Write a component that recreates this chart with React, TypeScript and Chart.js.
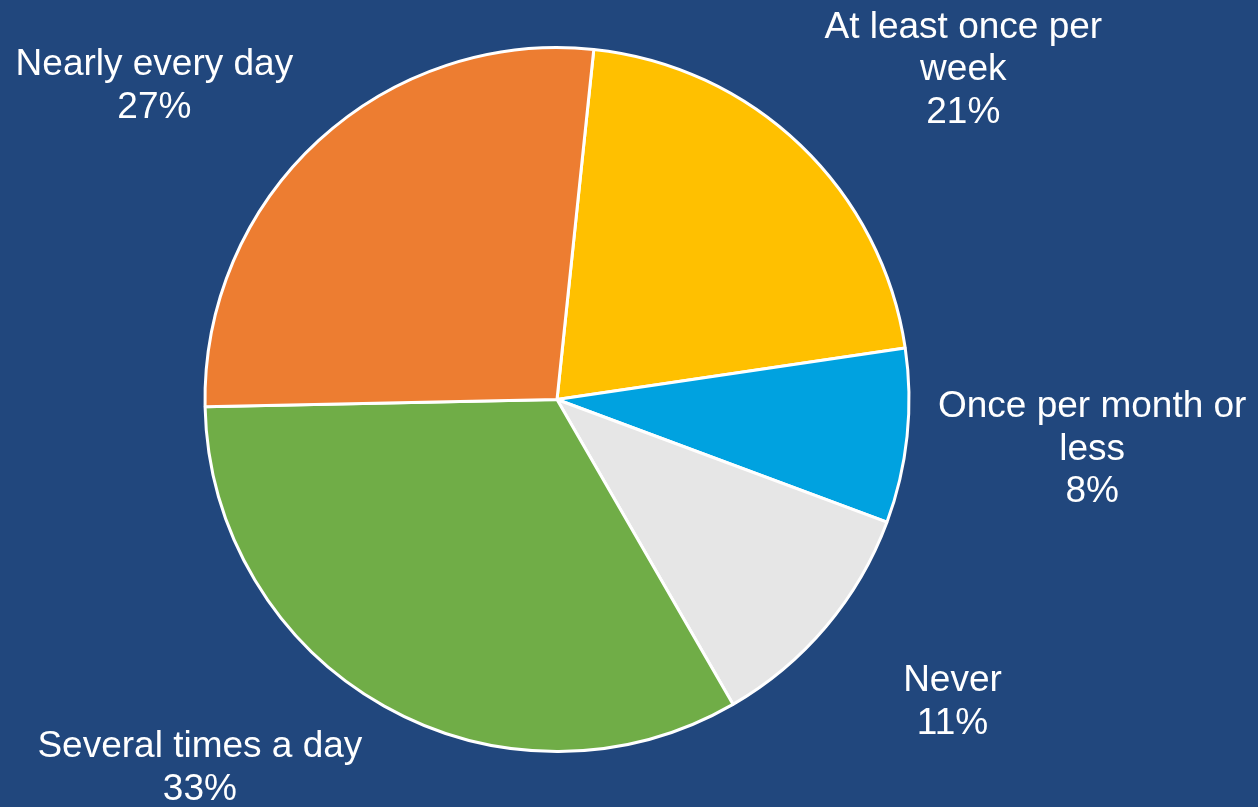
import React, { useEffect, useRef } from "react";
import { Chart, registerables } from "chart.js";

Chart.register(...registerables);

const categories: string[] = [
  "At least once per week",
  "Once per month or less",
  "Never",
  "Several times a day",
  "Nearly every day",
];
const labelLines: string[][] = [
  ["At least once per", "week"],
  ["Once per month or", "less"],
  ["Never"],
  ["Several times a day"],
  ["Nearly every day"],
];
const values: number[] = [21, 8, 11, 33, 27];
const sliceColors: string[] = ["#FFC000", "#00A2E0", "#E6E6E6", "#70AD47", "#ED7D31"];

const BG = "#21477D";
const FONT = "37px 'Liberation Sans', Arial, sans-serif";
const LINE_H = 42.5;
const GAP = 20;
const nudges: [number, number][] = [
  [10, 2],
  [11, -3],
  [62, 19],
  [-15, 1],
  [-12, 2],
];

const bgPlugin = {
  id: "bgFill",
  beforeDraw(chart: any) {
    const { ctx, width, height } = chart;
    ctx.save();
    ctx.fillStyle = BG;
    ctx.fillRect(0, 0, width, height);
    ctx.restore();
  },
};

const labelPlugin = {
  id: "outsideLabels",
  afterDraw(chart: any) {
    const { ctx } = chart;
    const meta = chart.getDatasetMeta(0);
    const data = chart.data.datasets[0].data as number[];
    const total = data.reduce((a, b) => a + b, 0);
    ctx.save();
    ctx.font = FONT;
    ctx.fillStyle = "#FFFFFF";
    ctx.textAlign = "center";
    ctx.textBaseline = "middle";
    meta.data.forEach((arc: any, i: number) => {
      const p = arc.getProps(["x", "y", "startAngle", "endAngle", "outerRadius"], true);
      const mid = (p.startAngle + p.endAngle) / 2;
      const r = p.outerRadius + GAP;
      const ax = p.x + Math.cos(mid) * r;
      const ay = p.y + Math.sin(mid) * r;
      const lines = [...labelLines[i], Math.round((data[i] / total) * 100) + "%"];
      const w = Math.max(...lines.map((l) => ctx.measureText(l).width));
      const h = lines.length * LINE_H;
      const sx = Math.max(-1, Math.min(1, Math.cos(mid) * 2));
      const sy = Math.max(-1, Math.min(1, Math.sin(mid) * 2));
      const cx = ax + (sx * w) / 2 + nudges[i][0];
      const cy = ay + (sy * h) / 2 + nudges[i][1];
      lines.forEach((line, k) => {
        const ly = cy - h / 2 + LINE_H * (k + 0.5);
        ctx.fillText(line, cx, ly + 1);
      });
    });
    ctx.restore();
  },
};

export default function App() {
  const canvasRef = useRef<HTMLCanvasElement | null>(null);

  useEffect(() => {
    if (!canvasRef.current) return;
    const chart = new Chart(canvasRef.current, {
      type: "pie",
      data: {
        labels: categories,
        datasets: [
          {
            data: values,
            backgroundColor: sliceColors,
            borderColor: "#FFFFFF",
            borderWidth: 3,
          },
        ],
      },
      options: {
        animation: false,
        responsive: false,
        maintainAspectRatio: false,
        rotation: 6,
        layout: { padding: { left: 0, right: 144, top: 46, bottom: 54 } },
        plugins: {
          legend: { display: false },
          tooltip: { enabled: false },
        },
      },
      plugins: [bgPlugin, labelPlugin],
    });
    return () => chart.destroy();
  }, []);

  return (
    <div style={{ position: "fixed", left: 0, top: 0, width: 1258, height: 807, background: BG }}>
      <canvas ref={canvasRef} width={1258} height={807} style={{ display: "block", width: 1258, height: 807 }} />
    </div>
  );
}
